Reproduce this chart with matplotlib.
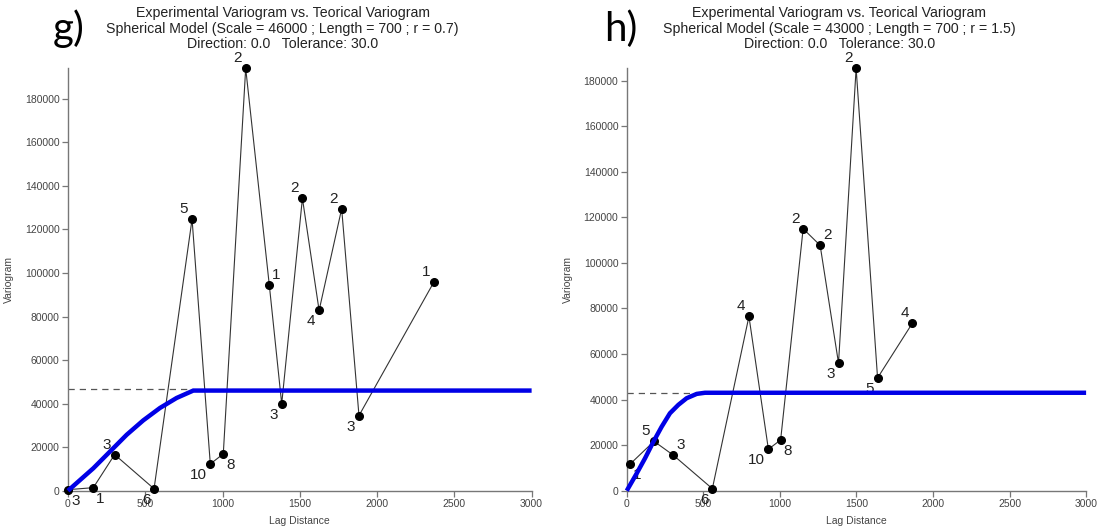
import matplotlib
matplotlib.use("Agg")
import matplotlib.pyplot as plt

plt.rcParams['font.family'] = ['Liberation Sans', 'DejaVu Sans']

# panel g) experimental variogram
g_lag = [2, 164, 302, 557, 803, 921, 1005, 1150, 1303, 1383, 1517, 1625, 1771, 1883, 2369]
g_var = [500, 1400, 16600, 900, 124700, 12300, 16900, 194000, 94300, 39900, 134300, 82800, 129500, 34500, 96000]
g_npairs = ['3', '1', '3', '6', '5', '10', '8', '2', '1', '3', '2', '4', '2', '3', '1']
# label side: u/l = above/below, l/r = left/right
g_side = ['lr', 'lr', 'ul', 'll', 'ul', 'll', 'lr', 'ul', 'ur', 'll', 'ul', 'll', 'ul', 'll', 'ul']

# panel g) theoretical model
g_model_lag = [0, 164, 272, 380, 487, 595, 703, 811, 3000]
g_model_var = [0, 10300, 18000, 25700, 32300, 38000, 42600, 46000, 46000]
g_sill = 46500
g_range = 811

# panel h)
h_lag = [22, 178, 304, 559, 798, 925, 1005, 1152, 1263, 1383, 1498, 1638, 1866]
h_var = [11700, 21700, 15600, 900, 76500, 18200, 22300, 115000, 107700, 56000, 185400, 49500, 73600]
h_npairs = ['1', '5', '3', '6', '4', '10', '8', '2', '2', '3', '2', '5', '4']
h_side = ['lr', 'ul', 'ur', 'll', 'ul', 'll', 'lr', 'ul', 'ur', 'll', 'ul', 'll', 'ul']

h_model_lag = [0, 65, 119, 174, 228, 282, 337, 391, 457, 511, 3000]
h_model_var = [0, 7600, 14200, 21500, 28100, 34000, 37700, 40600, 42500, 43000, 43000]
h_sill = 42800
h_range = 511

titles = ["Experimental Variogram vs. Teorical Variogram\n"
          "Spherical Model (Scale = 46000 ; Length = 700 ; r = 0.7)\n"
          "Direction: 0.0   Tolerance: 30.0",
          "Experimental Variogram vs. Teorical Variogram\n"
          "Spherical Model (Scale = 43000 ; Length = 700 ; r = 1.5)\n"
          "Direction: 0.0   Tolerance: 30.0"]
letters = ['g)', 'h)']

offs = {'ul': (-8, 10), 'ur': (7, 10), 'll': (-8, -11), 'lr': (7, -11)}

fig = plt.figure(figsize=(11.05, 5.28), dpi=100)
ax1 = fig.add_axes([0.0615, 0.0706, 0.4196, 0.80])
ax2 = fig.add_axes([0.5672, 0.0706, 0.4157, 0.80])

panels = [(ax1, g_lag, g_var, g_npairs, g_side, g_model_lag, g_model_var, g_sill, g_range),
          (ax2, h_lag, h_var, h_npairs, h_side, h_model_lag, h_model_var, h_sill, h_range)]

for i, (ax, lag, var, lab, side, mlag, mvar, sill, rng) in enumerate(panels):
    ax.plot(lag, var, '-', color='#333333', lw=0.8, zorder=2, clip_on=False)
    ax.plot(lag, var, 'o', color='black', ms=5.5, zorder=3, clip_on=False)
    ax.plot([0, rng], [sill, sill], '--', color='#555555', lw=0.9, dashes=(5, 4), zorder=1)
    ax.plot(mlag, mvar, '-', color='#0000e6', lw=3.2, zorder=5, clip_on=False,
            solid_capstyle='butt', solid_joinstyle='round')
    for x, y, t, s in zip(lag, var, lab, side):
        dx, dy = offs[s]
        if len(t) > 1:
            dx = dx - 4 if dx < 0 else dx + 4
        ax.annotate(t, (x, y), xytext=(dx, dy), textcoords='offset pixels',
                    ha='center', va='center', fontsize=11, color='#222222', zorder=4,
                    annotation_clip=False)

    ax.set_xlim(0, 3000)
    ax.set_ylim(0, max(var))
    ax.set_xticks(range(0, 3001, 500))
    ax.set_yticks(range(0, 180001, 20000))
    for sp in ['top', 'right']:
        ax.spines[sp].set_visible(False)
    for sp in ['left', 'bottom']:
        ax.spines[sp].set_color('#777777')
        ax.spines[sp].set_linewidth(1.0)
    ax.tick_params(colors='#777777', labelcolor='#444444', labelsize=7.5, length=4, width=0.9, pad=2)
    ax.set_xlabel('Lag Distance', fontsize=7.5, color='#444444', labelpad=5)
    ax.set_ylabel('Variogram', fontsize=7.5, color='#444444', labelpad=8)

    ax.text(0.463, 1.0 + 39.5 / 422.4, titles[i], transform=ax.transAxes, ha='center', va='center',
            fontsize=10.2, color='#222222', linespacing=1.14)

fig.text(0.048, 0.945, letters[0], fontsize=29, family='Lato', ha='left', va='center')
fig.text(0.547, 0.945, letters[1], fontsize=29, family='Lato', ha='left', va='center')

fig.savefig('out.png', dpi=100)
